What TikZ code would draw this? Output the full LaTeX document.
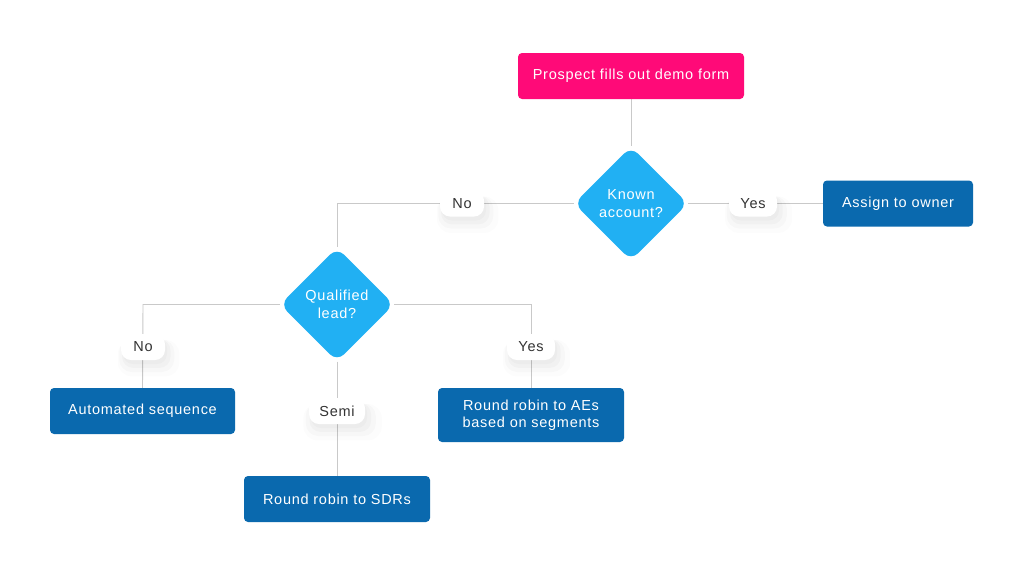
\documentclass[tikz,border=0pt]{standalone}
\usepackage{fontspec}
\setmainfont{Liberation Sans}[LetterSpace=5]
\usetikzlibrary{shapes.geometric,backgrounds,shadows}
\definecolor{pinkc}{HTML}{FF0A78}
\definecolor{lightb}{HTML}{21B0F3}
\definecolor{darkb}{HTML}{0A69AE}
\definecolor{linec}{HTML}{C9C9C9}
\definecolor{txtc}{HTML}{333333}
\tikzset{
  basefont/.style={font=\fontsize{14.5}{17.5}\selectfont},
  startbox/.style={basefont, fill=pinkc, text=white, rounded corners=4pt, minimum width=226pt, minimum height=46pt, inner sep=0pt},
  actbox/.style={basefont, fill=darkb, text=white, rounded corners=4pt, minimum height=46pt, inner sep=0pt, align=center},
  decision/.style={basefont, diamond, aspect=1, fill=lightb, text=white, rounded corners=10pt, minimum size=114pt, inner sep=0pt, align=center},
  pill/.style={basefont, fill=white, text=txtc, rounded corners=10pt, minimum height=26pt, inner sep=0pt,
    drop shadow={shadow xshift=4pt, shadow yshift=-8pt, shadow scale=1.4, opacity=0.012, fill=black, rounded corners=14pt},
    drop shadow={shadow xshift=3pt, shadow yshift=-7pt, shadow scale=1.25, opacity=0.018, fill=black, rounded corners=12pt},
    drop shadow={shadow xshift=3pt, shadow yshift=-6pt, shadow scale=1.1, opacity=0.022, fill=black},
    drop shadow={shadow xshift=2pt, shadow yshift=-4pt, shadow scale=1.0, opacity=0.02, fill=black}},
  conn/.style={draw=linec, line width=0.9pt}
}
\begin{document}
\begin{tikzpicture}[x=1pt,y=1pt]
\useasboundingbox (0,0) rectangle (1024,-576);
\node[startbox] (start) at (631,-76) {Prospect fills out demo form};
\node[decision] (known) at (631,-203.5) {Known\\account?};
\node[actbox, minimum width=150pt] (owner) at (898,-203.5) {Assign to owner};
\node[decision] (qual) at (337,-304.5) {Qualified\\lead?};
\node[actbox, minimum width=185pt] (auto) at (142.5,-411) {Automated sequence};
\node[actbox, minimum width=186pt, minimum height=54pt] (aes) at (531,-415) {Round robin to AEs\\based on segments};
\node[actbox, minimum width=186pt] (sdr) at (337,-499) {Round robin to SDRs};
\coordinate (kl) at (337,-203.5);
\coordinate (ql) at (143,-304.5);
\coordinate (qr) at (531,-304.5);
\begin{scope}[on background layer]
\fill[white] (0,0) rectangle (1024,-576);
\draw[conn] (start.south) -- (known.north);
\draw[conn] (known.east) -- (owner.west);
\draw[conn] (known.west) -- (kl) -- (qual.north);
\draw[conn] (qual.west) -- (ql) -- (auto.north);
\draw[conn] (qual.east) -- (qr) -- (aes.north);
\draw[conn] (qual.south) -- (sdr.north);
\end{scope}
\node[pill, minimum width=44pt] (pno1) at (462,-203.5) {No};
\node[pill, minimum width=48pt] (pyes1) at (753,-203.5) {Yes};
\node[pill, minimum width=44pt] (pno2) at (143,-347) {No};
\node[pill, minimum width=48pt] (pyes2) at (531,-347) {Yes};
\node[pill, minimum width=56pt] (psemi) at (337,-411) {Semi};
\end{tikzpicture}
\end{document}
